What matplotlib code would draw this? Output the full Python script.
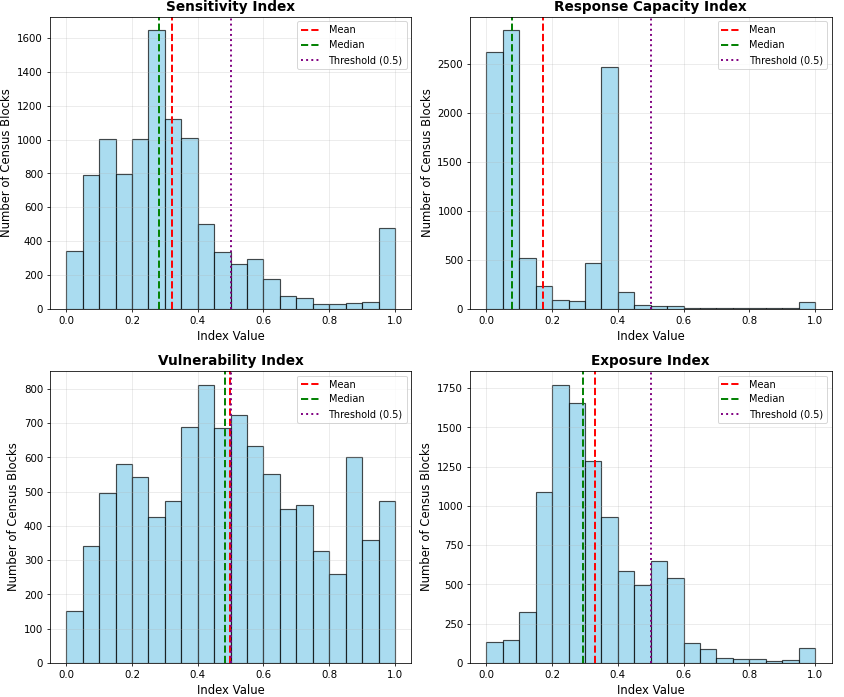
import numpy as np
import matplotlib
matplotlib.use("Agg")
import matplotlib.pyplot as plt

bin_edges = np.linspace(0, 1, 21)

titles = ["Sensitivity Index", "Response Capacity Index", "Vulnerability Index", "Exposure Index"]

sensitivity_counts = [340, 790, 1005, 795, 1005, 1645, 1120, 1010, 500, 335,
                      265, 295, 175, 75, 65, 25, 28, 32, 42, 480]
response_counts = [2620, 2845, 515, 230, 85, 75, 465, 2475, 170, 40,
                   25, 30, 12, 8, 10, 3, 3, 5, 5, 65]
vulnerability_counts = [152, 340, 497, 580, 542, 425, 473, 688, 813, 686,
                        724, 633, 553, 448, 460, 328, 260, 600, 358, 473]
exposure_counts = [130, 148, 322, 1088, 1773, 1655, 1288, 930, 585, 497,
                   650, 540, 125, 88, 30, 25, 25, 12, 18, 92]

means = [0.321, 0.172, 0.499, 0.330]
medians = [0.283, 0.078, 0.484, 0.295]
threshold = 0.5

all_counts = [sensitivity_counts, response_counts, vulnerability_counts, exposure_counts]

fig, axes = plt.subplots(2, 2, figsize=(12.06, 9.96), dpi=70)
fig.subplots_adjust(left=0.059, right=0.985, top=0.976, bottom=0.049,
                    wspace=0.162, hspace=0.212)

centers = (bin_edges[:-1] + bin_edges[1:]) / 2
for ax, title, counts, m, med in zip(axes.flat, titles, all_counts, means, medians):
    ax.hist(centers, bins=bin_edges, weights=counts, color="skyblue",
            edgecolor="black", alpha=0.7, linewidth=1.2)
    ax.axvline(m, color="red", linestyle="--", linewidth=2, label="Mean")
    ax.axvline(med, color="green", linestyle="--", linewidth=2, label="Median")
    ax.axvline(threshold, color="purple", linestyle=":", linewidth=2, label="Threshold (0.5)")
    ax.set_title(title, fontsize=14, fontweight="bold")
    ax.set_xlabel("Index Value", fontsize=12)
    ax.set_ylabel("Number of Census Blocks", fontsize=12)
    ax.tick_params(labelsize=10.5)
    ax.legend(loc="upper right", fontsize=10)
    ax.grid(True, alpha=0.3)

plt.savefig("out.png", dpi=70)
